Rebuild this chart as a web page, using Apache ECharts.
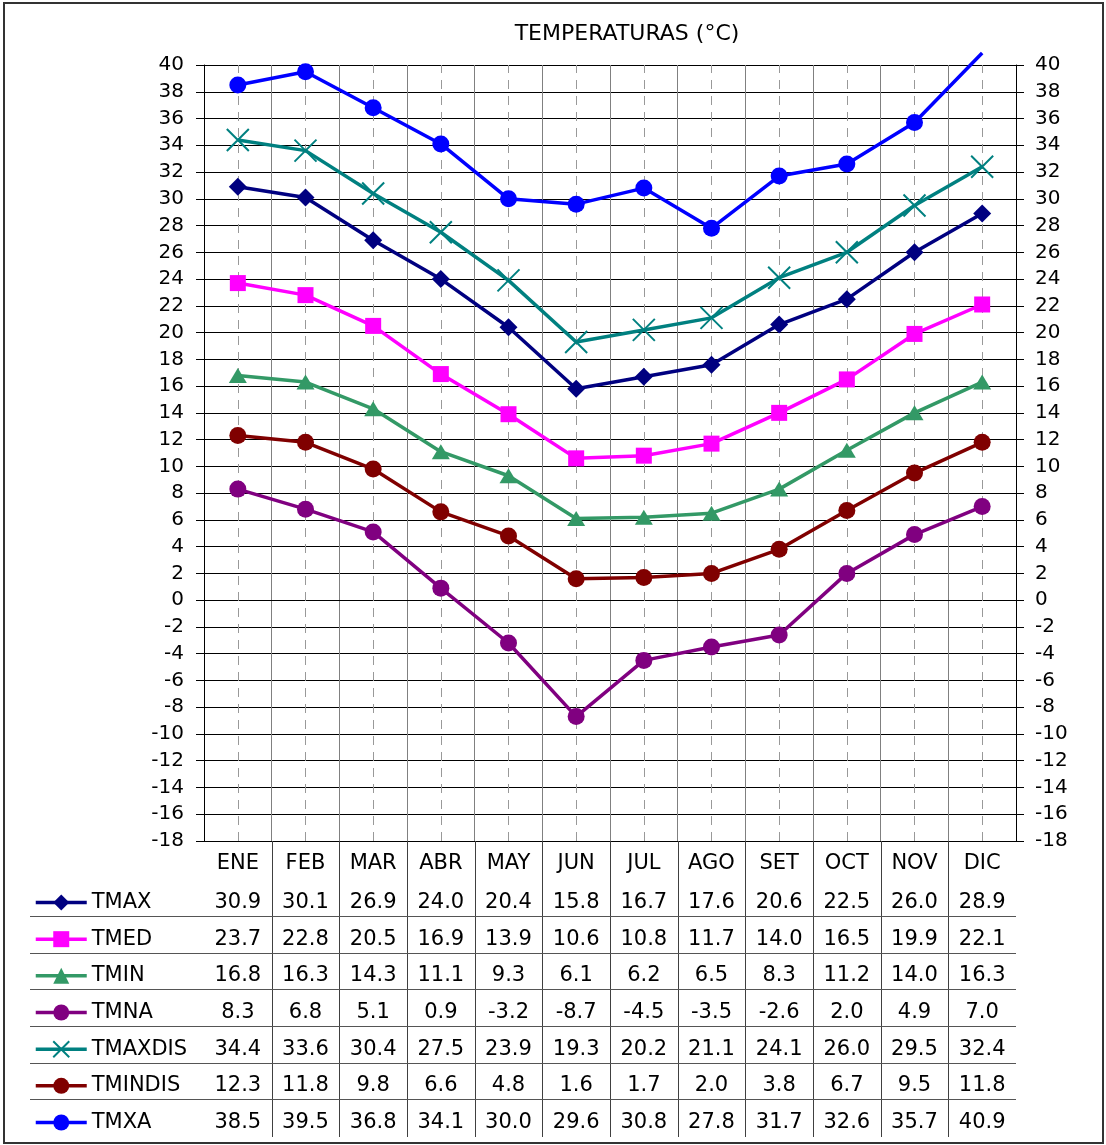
<!DOCTYPE html>
<html><head><meta charset="utf-8">
<script src="https://cdn.jsdelivr.net/npm/echarts@6/dist/echarts.min.js"></script>
<style>html,body{margin:0;padding:0;background:#fff}#c{width:1106px;height:1145px}</style>
</head><body><div id="c"></div>
<script>
// ---- data ----
const CATEGORIES = ['ENE','FEB','MAR','ABR','MAY','JUN','JUL','AGO','SET','OCT','NOV','DIC'];
const TMAX    = [30.9,30.1,26.9,24.0,20.4,15.8,16.7,17.6,20.6,22.5,26.0,28.9];
const TMED    = [23.7,22.8,20.5,16.9,13.9,10.6,10.8,11.7,14.0,16.5,19.9,22.1];
const TMIN    = [16.8,16.3,14.3,11.1,9.3,6.1,6.2,6.5,8.3,11.2,14.0,16.3];
const TMNA    = [8.3,6.8,5.1,0.9,-3.2,-8.7,-4.5,-3.5,-2.6,2.0,4.9,7.0];
const TMAXDIS = [34.4,33.6,30.4,27.5,23.9,19.3,20.2,21.1,24.1,26.0,29.5,32.4];
const TMINDIS = [12.3,11.8,9.8,6.6,4.8,1.6,1.7,2.0,3.8,6.7,9.5,11.8];
const TMXA    = [38.5,39.5,36.8,34.1,30.0,29.6,30.8,27.8,31.7,32.6,35.7,40.9];
const Y_MIN = -18, Y_MAX = 40, Y_STEP = 2;
const TITLE = 'TEMPERATURAS (°C)';

// ---- styles ----
const FONT = 'DejaVu Sans';
const SERIES = [
  {name:'TMAX',    data:TMAX,    color:'#000080', symbol:'diamond',  size:[18,18]},
  {name:'TMED',    data:TMED,    color:'#FF00FF', symbol:'rect',     size:16},
  {name:'TMIN',    data:TMIN,    color:'#339966', symbol:'triangle', size:[18,15]},
  {name:'TMNA',    data:TMNA,    color:'#800080', symbol:'circle',   size:17},
  {name:'TMAXDIS', data:TMAXDIS, color:'#008080', symbol:'path://M0,0L10,10M10,0L0,10', size:22, stroke:true},
  {name:'TMINDIS', data:TMINDIS, color:'#800000', symbol:'circle',   size:17},
  {name:'TMXA',    data:TMXA,    color:'#0000FF', symbol:'circle',   size:17}
];

// layout
const GRID = {left:204, right:90, top:65, bottom:304};
const AXIS_Y = 1145 - GRID.bottom;      // 841
const ROW0 = 902.5, ROW_STEP = 36.67;
const TABLE_FS = 21;

const chart = echarts.init(document.getElementById('c'), null, {renderer:'canvas'});

const xAxes = [{
  type:'category', data:CATEGORIES, gridIndex:0, position:'bottom', boundaryGap:true,
  axisLine:{show:true, lineStyle:{color:'#000', width:1}},
  axisTick:{show:false},
  splitLine:{show:true, interval:0, lineStyle:{color:'#808080', width:1}},
  axisLabel:{interval:0, margin:12, fontSize:TABLE_FS, fontFamily:FONT, color:'#000'}
}];
SERIES.forEach((s, r) => {
  xAxes.push({
    type:'category', data:CATEGORIES, gridIndex:0, position:'bottom', boundaryGap:true,
    offset: ROW0 + r*ROW_STEP - AXIS_Y - TABLE_FS/2,
    axisLine:{show:false}, axisTick:{show:false}, splitLine:{show:false},
    axisLabel:{interval:0, margin:0, fontSize:TABLE_FS, fontFamily:FONT, color:'#000',
      formatter:(v, i) => s.data[i].toFixed(1)}
  });
});

const yBase = {
  type:'value', min:Y_MIN, max:Y_MAX, interval:Y_STEP,
  axisLine:{show:true, lineStyle:{color:'#000', width:1}},
  axisTick:{show:true, length:8, inside:false, lineStyle:{color:'#000'}},
  axisLabel:{fontSize:20, fontFamily:FONT, color:'#000'}
};

const series = SERIES.map((s, k) => {
  const o = {
    name:s.name, type:'line', xAxisIndex:0, yAxisIndex:0,
    data: s.data.map(v => v > Y_MAX ? {value:v, symbol:'none'} : v),
    symbol:s.symbol, symbolSize:s.size, showSymbol:true, showAllSymbol:true,
    clip:false, animation:false, z:3 + k,
    lineStyle:{color:s.color, width:3.5},
    itemStyle: s.stroke ? {color:s.color, borderColor:s.color, borderWidth:2}
                        : {color:s.color, borderWidth:0},
    emphasis:{disabled:true}
  };
  if (k === 0) {
    o.markLine = {
      silent:true, z:1, animation:false, symbol:['none','none'],
      label:{show:false},
      lineStyle:{color:'#999', width:1, type:[9,7]},
      emphasis:{disabled:true},
      data: CATEGORIES.map(c => ({xAxis:c}))
    };
  }
  return o;
});

const legends = SERIES.map((s, r) => ({
  data:[s.name], left:34, top: ROW0 + r*ROW_STEP - 10.5, orient:'vertical',
  itemWidth:51, itemHeight:20, itemGap:0, padding:0, selectedMode:false,
  lineStyle:{width:3.5},
  textStyle:{fontSize:TABLE_FS, fontFamily:FONT, color:'#000', lineHeight:21}
}));

chart.setOption({
  backgroundColor:'#fff',
  animation:false,
  grid:[Object.assign({containLabel:false, outerBoundsMode:'none'}, GRID)],
  xAxis:xAxes,
  yAxis:[
    Object.assign({}, yBase, {position:'left', axisLabel:Object.assign({}, yBase.axisLabel, {margin:20}),
      splitLine:{show:true, lineStyle:{color:'#000', width:1}}}),
    Object.assign({}, yBase, {position:'right', axisLabel:Object.assign({}, yBase.axisLabel, {margin:19}),
      splitLine:{show:false}})
  ],
  legend:legends,
  series:series
});

// table grid lines and frame, positioned from the category axis
const cx = CATEGORIES.map(c => chart.convertToPixel({xAxisIndex:0}, c));
const band = cx[1] - cx[0];
const gx1 = cx[cx.length-1] + band/2;
const graphics = [];
graphics.push({type:'rect', shape:{x:4, y:3, width:1099, height:1140},
  style:{fill:'none', stroke:'#333', lineWidth:2}, silent:true, z:10});
graphics.push({type:'text', x:627, y:34, silent:true,
  style:{text:TITLE, font:'22px "' + FONT + '"', fill:'#000', align:'center', verticalAlign:'middle'}});
for (let i = 0; i < cx.length - 1; i++) {
  const x = Math.round(cx[i] + band/2) + 0.5;
  graphics.push({type:'line', silent:true, shape:{x1:x, y1:AXIS_Y, x2:x, y2:1137},
    style:{stroke:'#404040', lineWidth:1}});
}
const HLINE0 = 916;
for (let r = 0; r < SERIES.length - 1; r++) {
  const y = Math.round(HLINE0 + r*ROW_STEP) + 0.5;
  graphics.push({type:'line', silent:true, shape:{x1:30, y1:y, x2:gx1, y2:y},
    style:{stroke:'#555', lineWidth:1}});
}
chart.setOption({graphic:graphics});
</script>
</body></html>
